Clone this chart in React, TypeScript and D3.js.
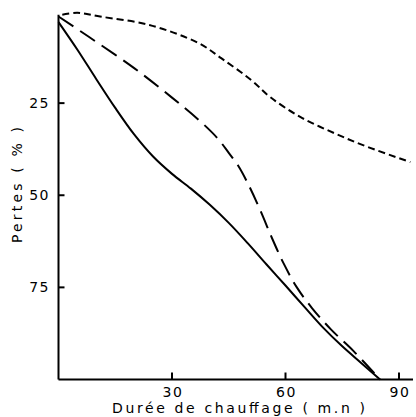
import React from "react";
import * as d3 from "d3";

// heating time (min) and losses (%)
const solidT = [0, 5, 10, 15, 20, 25, 30, 35, 40, 45, 50, 55, 60, 65, 70, 75, 80, 85];
const solidP = [3, 10.5, 18.5, 26.3, 33.5, 39.5, 44.2, 48.2, 52.6, 57.5, 63, 68.8, 74.5, 80.3, 86, 91, 95.5, 100];

const longDashT = [0, 8, 20, 30, 37, 42, 45, 47.5, 50, 53.3, 56.5, 59.5, 63, 67, 72, 78, 85];
const longDashP = [1.5, 7, 15.5, 23.5, 29.5, 34.5, 38.5, 42, 46.7, 54, 61.8, 68.5, 75, 80.6, 86.4, 92.3, 100];

const shortDashT = [1, 5, 11, 24, 37, 43, 51, 56, 64, 73, 82, 93];
const shortDashP = [1, 0.5, 1.5, 3.8, 8.7, 12.8, 18.8, 23.4, 28.8, 33.2, 37, 41];

const xTicks = [30, 60, 90];
const yTicks = [25, 50, 75];

const series = [
  { t: solidT, p: solidP, dash: "none" },
  { t: longDashT, p: longDashP, dash: "18,8" },
  { t: shortDashT, p: shortDashP, dash: "7,4" },
];

const W = 416;
const H = 417;
const font = "DejaVu Sans, sans-serif";

export default function App() {
  const x = d3.scaleLinear().domain([0, 90]).range([58.5, 399]);
  const y = d3.scaleLinear().domain([0, 100]).range([11, 379.5]);

  const line = d3
    .line<[number, number]>()
    .x((d) => x(d[0]))
    .y((d) => y(d[1]))
    .curve(d3.curveCatmullRom.alpha(0.5));

  return (
    <svg
      width={W}
      height={H}
      style={{ position: "absolute", left: 0, top: 0, background: "#fff" }}
    >
      {/* axes */}
      <line x1={x(0)} x2={x(0)} y1={y(1)} y2={y(100)} stroke="#000" strokeWidth={2} />
      <line x1={x(0)} x2={413} y1={y(100)} y2={y(100)} stroke="#000" strokeWidth={2} />

      {yTicks.map((v) => (
        <g key={"y" + v}>
          <line x1={x(0)} x2={x(0) + 6} y1={y(v)} y2={y(v)} stroke="#000" strokeWidth={2} />
          <text
            x={50}
            y={y(v) + 5}
            textAnchor="end"
            fontFamily={font}
            fontSize={14}
            letterSpacing={1.5}
          >
            {v}
          </text>
        </g>
      ))}

      {xTicks.map((v) => (
        <g key={"x" + v}>
          <line x1={x(v)} x2={x(v)} y1={y(100)} y2={y(100) - 7} stroke="#000" strokeWidth={2} />
          <text
            x={x(v) + 1}
            y={397}
            textAnchor="middle"
            fontFamily={font}
            fontSize={14}
            letterSpacing={1.5}
          >
            {v}
          </text>
        </g>
      ))}

      {/* curves */}
      {series.map((s, i) => (
        <path
          key={i}
          d={line(s.t.map((t, j) => [t, s.p[j]] as [number, number])) || ""}
          fill="none"
          stroke="#000"
          strokeWidth={2}
          strokeDasharray={s.dash}
        />
      ))}

      {/* axis titles */}
      <text
        x={112}
        y={413}
        fontFamily={font}
        fontSize={14}
        textLength={253}
        lengthAdjust="spacing"
      >
        Durée de chauffage ( m.n )
      </text>
      <text
        transform="translate(22,243) rotate(-90)"
        fontFamily={font}
        fontSize={14}
        textLength={116}
        lengthAdjust="spacing"
      >
        Pertes ( % )
      </text>
    </svg>
  );
}
